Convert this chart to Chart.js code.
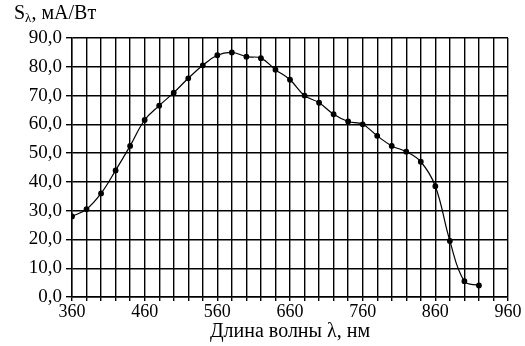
<!DOCTYPE html>
<html>
<head>
<meta charset="utf-8">
<script src="https://cdn.jsdelivr.net/npm/chart.js@4.4.0/dist/chart.umd.min.js"></script>
<style>
  body { margin: 0; background: #fff; }
  #wrap { width: 525px; height: 346px; position: relative; }
</style>
</head>
<body>
<div id="wrap"><canvas id="myChart"></canvas></div>
<script>
// wavelengths, nm
const wavelengths = [360, 380, 400, 420, 440, 460, 480, 500, 520, 540, 560, 580, 600, 620, 640,
    660, 680, 700, 720, 740, 760, 780, 800, 820, 840, 860, 880, 900, 920];
// sensitivity S, mA/W
const sensitivity = [28, 30.5, 36, 44, 52.5, 61.5, 66.5, 71, 76, 80.5, 84, 85, 83.5, 83, 79,
    75.5, 70, 67.5, 63.5, 61, 60, 56, 52.5, 50.5, 47, 38.5, 19.5, 5.5, 4];
const yTicks = [0, 10, 20, 30, 40, 50, 60, 70, 80, 90];

const serif = "'Liberation Serif', 'DejaVu Serif', serif";

// axis titles
const axisTitles = {
    id: 'axisTitles',
    afterDraw(chart) {
        const ctx = chart.ctx;
        ctx.save();
        ctx.fillStyle = '#000';
        ctx.textBaseline = 'alphabetic';
        ctx.font = '20px ' + serif;
        ctx.textAlign = 'center';
        ctx.fillText('Длина волны λ, нм', (chart.chartArea.left + chart.chartArea.right) / 2, 337);
        // y title with subscript
        ctx.textAlign = 'left';
        let x = 14;
        ctx.font = '20px ' + serif;
        ctx.fillText('S', x, 19);
        x += ctx.measureText('S').width;
        ctx.font = '13px ' + serif;
        ctx.fillText('λ', x, 22);
        x += ctx.measureText('λ').width;
        ctx.font = '20px ' + serif;
        ctx.fillText(', мА/Вт', x, 19);
        ctx.restore();
    }
};

const data = {
    labels: wavelengths,
    datasets: [{
        data: wavelengths.map((w, i) => ({x: w, y: sensitivity[i]})),
        borderColor: '#000',
        backgroundColor: '#000',
        borderWidth: 1.2,
        pointRadius: 2.3,
        pointBackgroundColor: '#000',
        tension: 0.4,
        fill: false
    }]
};

const config = {
    type: 'line',
    data,
    options: {
        responsive: true,
        maintainAspectRatio: false,
        animation: false,
        layout: { padding: { left: 0, top: 38, right: 17, bottom: 0 } },
        plugins: { legend: { display: false }, tooltip: { enabled: false } },
        scales: {
            x: {
                type: 'linear',
                min: 360,
                max: 960,
                afterFit: s => { s.height = 49; },
                ticks: {
                    stepSize: 20,
                    autoSkip: false,
                    maxRotation: 0,
                    padding: 0,
                    color: '#000',
                    font: { family: serif, size: 18 },
                    callback: v => ((v - 360) % 100 === 0 ? String(v) : '')
                },
                grid: { color: '#000', lineWidth: 1.4, tickLength: 4, drawTicks: true },
                border: { color: '#000', width: 1.4 }
            },
            y: {
                min: 0,
                max: 90,
                afterFit: s => { s.width = 72; },
                afterBuildTicks: s => { s.ticks = yTicks.map(v => ({value: v})); },
                ticks: {
                    padding: 4,
                    color: '#000',
                    font: { family: serif, size: 19 },
                    callback: v => v.toFixed(1).replace('.', ',')
                },
                grid: { color: '#000', lineWidth: 1.4, tickLength: 6 },
                border: { color: '#000', width: 1.4 }
            }
        }
    },
    plugins: [axisTitles]
};

var myChart = new Chart(document.getElementById('myChart'), config);
</script>
</body>
</html>
